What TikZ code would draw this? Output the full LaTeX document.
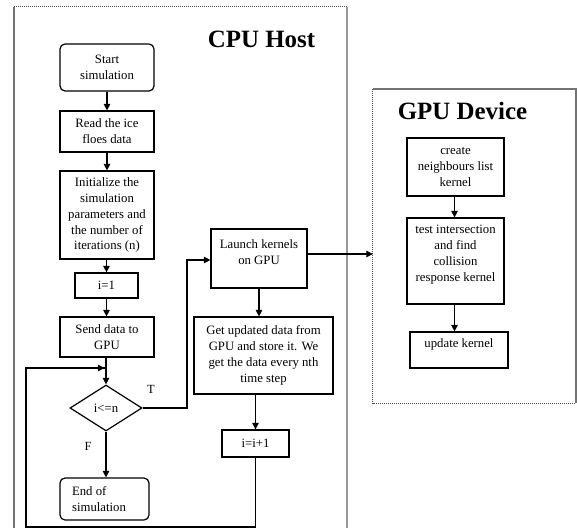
\documentclass[tikz,border=0pt]{standalone}
\usepackage{fontspec}
\setmainfont{Liberation Serif}
\usetikzlibrary{arrows.meta,shapes.geometric}
\tikzset{
  flowbox/.style={draw=black, line width=1.2bp, rectangle, inner sep=1bp, align=center,
    font=\fontsize{12.8}{16}\selectfont},
  roundbox/.style={flowbox, rounded corners=5bp},
  decide/.style={draw=black, line width=1.2bp, diamond, inner sep=0pt, aspect=1.565,
    font=\fontsize{12.8}{16}\selectfont},
  flowarrow/.style={draw=black, line width=1.2bp, -{Triangle[length=6.5bp,width=6.5bp]}},
  flowline/.style={draw=black, line width=1.2bp},
  title/.style={font=\fontsize{25}{30}\selectfont\bfseries, anchor=base, inner sep=0pt},
  branch/.style={font=\fontsize{12.5}{14}\selectfont, inner sep=0pt},
  frameshadow/.style={draw=black!55, line width=1.6bp},
  framedots/.style={draw=black!70, line width=1bp, dash pattern=on 1bp off 1bp}
}
\begin{document}
\begin{tikzpicture}[x=1bp,y=-1bp]
\useasboundingbox (0,0) rectangle (577,528);
% frames
\node[minimum width=333bp, minimum height=540bp, inner sep=0pt] (cpuframe) at (180.5,277) {};
\node[minimum width=203bp, minimum height=314bp, inner sep=0pt] (gpuframe) at (474.5,246) {};
\draw[frameshadow] (14,7) -- (14,528);
\draw[framedots] (14,7) -- (347,7);
\draw[frameshadow, draw=black!40, line width=2bp] (347,7) -- (347,528);
\draw[frameshadow, draw=black!55] (gpuframe.north west) -- (gpuframe.north east) -- (gpuframe.south east);
\draw[framedots] (gpuframe.north west) -- (gpuframe.south west) -- (gpuframe.south east);
\node[title] (cputitle) at (261.5,48) {CPU Host};
\node[title] (gputitle) at (462.5,120) {GPU Device};
% CPU nodes
\node[roundbox, minimum width=94bp, minimum height=47bp] (start) at (107,67.5) {Start\\simulation};
\node[flowbox, minimum width=94bp, minimum height=41bp] (read) at (107,131.5) {Read the ice\\floes data};
\node[flowbox, minimum width=94bp, minimum height=88bp] (init) at (107,215) {Initialize the\\simulation\\parameters and\\the number of\\iterations (n)};
\node[flowbox, minimum width=63bp, minimum height=25bp] (ione) at (106.5,285.5) {i=1};
\node[flowbox, minimum width=94bp, minimum height=40bp] (send) at (107,337) {Send data to\\GPU};
\node[decide, minimum width=72bp, minimum height=46bp] (cond) at (106,408) {i<=n};
\node[roundbox, minimum width=89bp, minimum height=42bp, align=left] (end) at (104.5,499) {End of\\simulation\hspace*{11bp}};
\node[flowbox, minimum width=96bp, minimum height=59bp, text depth=12bp] (launch) at (259,258.5) {Launch kernels\\on GPU};
\node[flowbox, minimum width=139bp, minimum height=77bp] (get) at (263.5,355.5) {Get updated data from\\GPU and store it. We\\get the data every nth\\time step};
\node[flowbox, minimum width=67bp, minimum height=27bp] (ipp) at (255.5,443.5) {i=i+1};
% GPU nodes
\node[flowbox, minimum width=97bp, minimum height=58bp] (create) at (455.5,167) {create\\neighbours list\\kernel};
\node[flowbox, minimum width=97bp, minimum height=86bp, text depth=16bp] (test) at (455.5,261) {test intersection\\and find\\collision\\response kernel};
\node[flowbox, minimum width=98bp, minimum height=36bp, text depth=14bp] (update) at (459,350) {update kernel};
% branch labels
\node[branch] (tlabel) at (151,389) {T};
\node[branch] (flabel) at (88,446) {F};
\coordinate (merge) at (105.5,368);
% connectors
\draw[flowarrow] (start) -- (read);
\draw[flowarrow] (read) -- (init);
\draw[flowarrow] (init.south -| ione.north) -- (ione.north);
\draw[flowarrow] (ione.south) -- (ione.south |- send.north);
\draw[flowarrow] (send.south -| cond.north) -- (cond.north);
\draw[flowarrow] (cond.south) -- (cond.south |- end.north);
\draw[flowarrow] (cond.east) -- (187,408) -- (187,260) -- (launch.west |- 0,260);
\draw[flowarrow] (launch.south) -- (launch.south |- get.north);
\draw[flowarrow] (ipp.north |- get.south) -- (ipp.north);
\draw[flowline] (ipp.south) -- (ipp.south |- 0,527) -- (26,527) -- (26,368) -- (merge);
\draw[flowarrow] (26,368) -- ([xshift=-1bp]merge);
\draw[flowarrow] (launch.east |- 0,254) -- (gpuframe.west |- 0,254);
\draw[flowarrow] (create.south -| 454.5,0) -- (test.north -| 454.5,0);
\draw[flowarrow] (test.south -| 454.5,0) -- (update.north -| 454.5,0);
\end{tikzpicture}
\end{document}
